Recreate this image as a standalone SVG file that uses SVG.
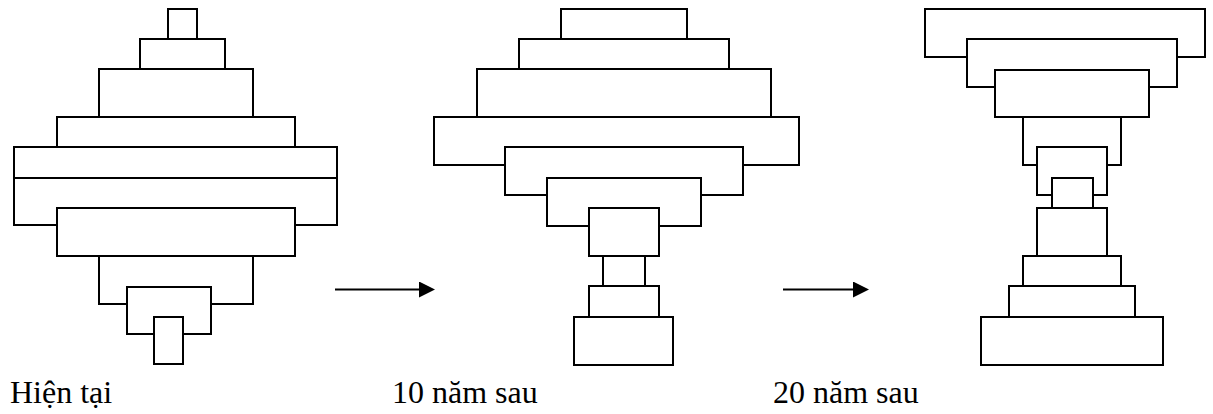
<svg xmlns="http://www.w3.org/2000/svg" width="1213" height="414" viewBox="0 0 1213 414">
  <style>
    .tier { fill: #ffffff; stroke: #000000; stroke-width: 2; }
    .label { font-family: "Liberation Serif", "Times New Roman", serif; font-size: 32px; fill: #000000; }
    .arrow { stroke: #000000; stroke-width: 2; fill: none; }
  </style>
  <defs>
    <marker id="head" markerUnits="userSpaceOnUse" markerWidth="16" markerHeight="16" viewBox="0 0 15 15" refX="0" refY="7.5" orient="auto">
      <path d="M0,0 L15,7.5 L0,15 Z" fill="#000000"/>
    </marker>
  </defs>
  <rect width="1213" height="414" fill="#ffffff"/>

  <!-- present-day structure: tiers drawn top to bottom, later tiers overlap earlier ones -->
  <g id="hien-tai">
    <rect class="tier" x="168" y="9" width="29" height="30"/>
    <rect class="tier" x="140" y="39" width="85" height="30"/>
    <rect class="tier" x="99" y="69" width="154" height="48"/>
    <rect class="tier" x="57" y="117" width="238" height="30"/>
    <rect class="tier" x="14" y="147" width="323" height="31"/>
    <rect class="tier" x="14" y="178" width="323" height="47"/>
    <rect class="tier" x="57" y="208" width="238" height="48"/>
    <rect class="tier" x="99" y="256" width="154" height="48"/>
    <rect class="tier" x="127" y="287" width="84" height="47"/>
    <rect class="tier" x="154" y="317" width="29" height="47"/>
    <text class="label" x="10" y="403">Hiện tại</text>
  </g>

  <!-- structure after 10 years -->
  <g id="muoi-nam-sau">
    <rect class="tier" x="561" y="9" width="126" height="30"/>
    <rect class="tier" x="519" y="39" width="210" height="30"/>
    <rect class="tier" x="477" y="69" width="294" height="48"/>
    <rect class="tier" x="434" y="117" width="365" height="48"/>
    <rect class="tier" x="505" y="147" width="238" height="48"/>
    <rect class="tier" x="547" y="178" width="154" height="48"/>
    <rect class="tier" x="589" y="208" width="70" height="48"/>
    <rect class="tier" x="603" y="256" width="42" height="30"/>
    <rect class="tier" x="589" y="286" width="70" height="31"/>
    <rect class="tier" x="574" y="317" width="99" height="48"/>
    <text class="label" x="392" y="403">10 năm sau</text>
  </g>

  <!-- structure after 20 years -->
  <g id="hai-muoi-nam-sau">
    <rect class="tier" x="925" y="9" width="280" height="48"/>
    <rect class="tier" x="967" y="39" width="210" height="48"/>
    <rect class="tier" x="995" y="70" width="154" height="47"/>
    <rect class="tier" x="1023" y="117" width="98" height="48"/>
    <rect class="tier" x="1037" y="147" width="70" height="48"/>
    <rect class="tier" x="1052" y="178" width="41" height="30"/>
    <rect class="tier" x="1037" y="208" width="70" height="48"/>
    <rect class="tier" x="1023" y="256" width="98" height="30"/>
    <rect class="tier" x="1009" y="286" width="126" height="31"/>
    <rect class="tier" x="981" y="317" width="182" height="48"/>
    <text class="label" x="773" y="403">20 năm sau</text>
  </g>

  <!-- transitions -->
  <g id="connectors">
    <line class="arrow" x1="335" y1="289.5" x2="419" y2="289.5" marker-end="url(#head)"/>
    <line class="arrow" x1="783" y1="289.5" x2="853" y2="289.5" marker-end="url(#head)"/>
  </g>
</svg>
